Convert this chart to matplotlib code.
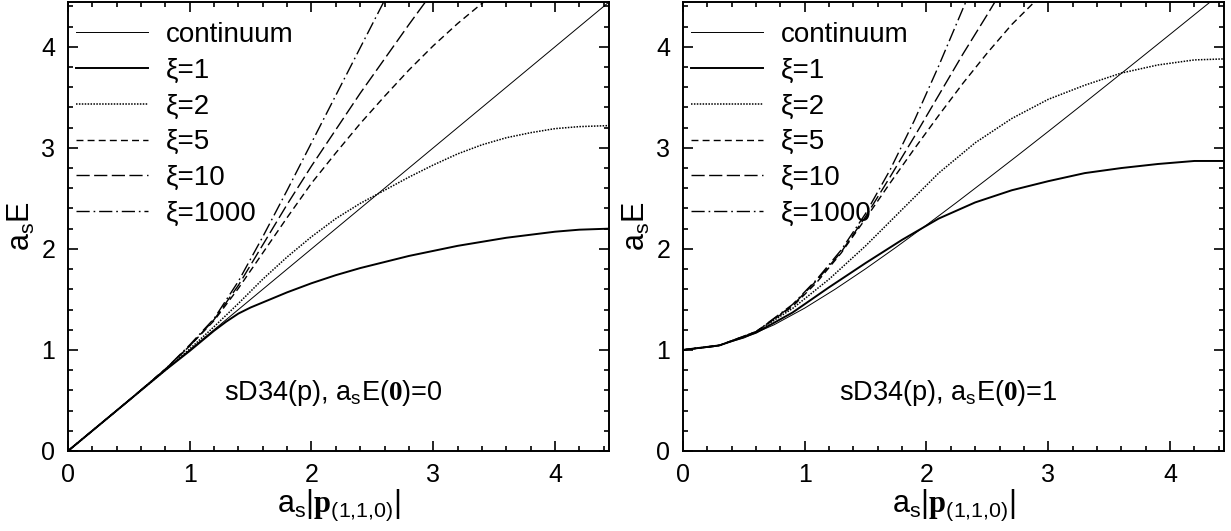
import numpy as np
import matplotlib
matplotlib.use("Agg")
import matplotlib.pyplot as plt

plt.rcParams['font.family'] = ['Liberation Sans', 'DejaVu Sans']
plt.rcParams['mathtext.fontset'] = 'custom'
plt.rcParams['mathtext.rm'] = 'Liberation Sans'
plt.rcParams['mathtext.it'] = 'Liberation Sans:italic'
plt.rcParams['mathtext.bf'] = 'Liberation Serif:bold'

PMAX = 4.443  # pi*sqrt(2), zone corner along (1,1,0)

# ---- left panel: a_s E(0) = 0 ----
left_cont_p = [0.0, 4.443]
left_cont_E = [0.0, 4.443]

left_x1_p = [0.0, 0.4, 0.8, 1.0, 1.2, 1.3, 1.4, 1.5, 1.6, 1.8, 2.0, 2.2, 2.4, 2.6, 2.8, 3.0,
             3.2, 3.4, 3.6, 3.8, 4.0, 4.2, 4.443]
left_x1_E = [0.0, 0.40, 0.80, 0.99, 1.19, 1.28, 1.36, 1.42, 1.47, 1.57, 1.66, 1.74, 1.81,
             1.87, 1.93, 1.98, 2.03, 2.07, 2.11, 2.14, 2.17, 2.19, 2.20]

left_x2_p = [0.0, 0.5, 0.8, 1.0, 1.2, 1.4, 1.6, 1.8, 2.0, 2.2, 2.4, 2.6, 2.8, 3.0, 3.2,
             3.4, 3.6, 3.8, 4.0, 4.2, 4.443]
left_x2_E = [0.0, 0.50, 0.80, 1.01, 1.23, 1.46, 1.70, 1.92, 2.12, 2.30, 2.45, 2.58, 2.71,
             2.83, 2.94, 3.03, 3.10, 3.15, 3.19, 3.21, 3.22]

left_x5_p = [0.0, 0.5, 0.8, 1.0, 1.2, 1.4, 1.6, 1.8, 2.0, 2.2, 2.4, 2.6, 2.8, 3.0, 3.2,
             3.4, 3.6]
left_x5_E = [0.0, 0.50, 0.81, 1.04, 1.29, 1.61, 1.96, 2.31, 2.65, 2.95, 3.24, 3.51, 3.77,
             4.01, 4.23, 4.43, 4.61]

left_x10_p = [0.0, 0.5, 0.8, 1.0, 1.2, 1.4, 1.6, 1.8, 2.0, 2.2, 2.4, 2.6, 2.8, 3.0]
left_x10_E = [0.0, 0.50, 0.81, 1.04, 1.30, 1.64, 2.04, 2.44, 2.82, 3.18, 3.54, 3.88, 4.22,
              4.55]

left_x1000_p = [0.0, 0.5, 0.8, 1.0, 1.2, 1.4, 1.6, 1.8, 2.0, 2.2, 2.4, 2.6, 2.7]
left_x1000_E = [0.0, 0.50, 0.81, 1.05, 1.31, 1.68, 2.12, 2.58, 3.05, 3.52, 3.99, 4.46, 4.70]

# ---- right panel: a_s E(0) = 1 ----
right_cont_p = [0.0, 0.25, 0.5, 0.75, 1.0, 1.25, 1.5, 1.75, 2.0, 2.25, 2.5, 2.75, 3.0,
                3.25, 3.5, 3.75, 4.0, 4.25, 4.443]
right_cont_E = [1.0, 1.031, 1.118, 1.25, 1.414, 1.601, 1.803, 2.016, 2.236, 2.462, 2.693,
                2.926, 3.162, 3.400, 3.640, 3.881, 4.123, 4.366, 4.553]

right_x1_p = [0.0, 0.3, 0.6, 0.9, 1.2, 1.5, 1.8, 2.1, 2.4, 2.7, 3.0, 3.3, 3.6, 3.9, 4.2,
              4.443]
right_x1_E = [1.0, 1.045, 1.17, 1.37, 1.62, 1.86, 2.09, 2.30, 2.46, 2.58, 2.67, 2.75, 2.80,
              2.84, 2.87, 2.87]

right_x2_p = [0.0, 0.3, 0.6, 0.9, 1.2, 1.5, 1.8, 2.1, 2.4, 2.7, 3.0, 3.3, 3.6, 3.9, 4.2,
              4.443]
right_x2_E = [1.0, 1.045, 1.18, 1.41, 1.70, 2.03, 2.39, 2.75, 3.05, 3.29, 3.48, 3.62, 3.74,
              3.82, 3.87, 3.88]

right_x5_p = [0.0, 0.3, 0.6, 0.9, 1.1, 1.3, 1.5, 1.7, 1.9, 2.1, 2.3, 2.5, 2.7, 2.9]
right_x5_E = [1.0, 1.045, 1.18, 1.43, 1.67, 1.96, 2.30, 2.65, 2.99, 3.32, 3.64, 3.94, 4.22,
              4.46]

right_x10_p = [0.0, 0.3, 0.6, 0.9, 1.1, 1.3, 1.5, 1.7, 1.9, 2.1, 2.3, 2.5, 2.6]
right_x10_E = [1.0, 1.045, 1.18, 1.44, 1.69, 1.97, 2.32, 2.71, 3.11, 3.52, 3.93, 4.32, 4.52]

right_x1000_p = [0.0, 0.3, 0.6, 0.9, 1.1, 1.3, 1.5, 1.7, 1.9, 2.1, 2.3, 2.4]
right_x1000_E = [1.0, 1.045, 1.18, 1.45, 1.70, 1.99, 2.35, 2.78, 3.27, 3.81, 4.38, 4.66]

labels = ['continuum', 'ξ=1', 'ξ=2', 'ξ=5', 'ξ=10', 'ξ=1000']
styles = [dict(color='k', lw=0.7, ls='-'),
          dict(color='k', lw=1.4, ls='-'),
          dict(color='k', lw=1.1, ls=(0, (1.0, 0.9))),
          dict(color='k', lw=1.0, ls=(0, (5.0, 3.0))),
          dict(color='k', lw=1.0, ls=(0, (9.5, 3.2))),
          dict(color='k', lw=1.0, ls=(0, (9.5, 2.8, 1.2, 2.8)))]


def drawPanel(ax, curves, note):
    for (p, E), lab, st in zip(curves, labels, styles):
        ax.plot(p, E, label=lab, **st)
    ax.set_xlim(0, PMAX)
    ax.set_ylim(0, PMAX)
    ax.set_xticks([0, 1, 2, 3, 4])
    ax.set_yticks([0, 1, 2, 3, 4])
    ax.set_xticks(np.arange(0, 4.41, 0.2), minor=True)
    ax.set_yticks(np.arange(0, 4.41, 0.2), minor=True)
    ax.tick_params(which='both', direction='in', top=True, right=True, width=1.2,
                   labelsize=18)
    ax.tick_params(which='major', length=7, pad=9)
    ax.tick_params(which='minor', length=3.5)
    for s in ax.spines.values():
        s.set_linewidth(1.4)
    ax.set_xlabel(r'a$_{\rm s}$|$\mathbf{p}_{(1{,}1{,}0)}$|', fontsize=22, labelpad=0)
    ax.set_ylabel(r'a$_{\rm s}$E', fontsize=22, labelpad=3)
    ax.text(1.28, 0.50, note, fontsize=19.5, ha='left', va='baseline')
    ax.legend(loc='upper left', bbox_to_anchor=(0.015, 0.955), frameon=False,
              fontsize=20, handlelength=2.6, handletextpad=0.65, labelspacing=0.35,
              borderaxespad=0.0, borderpad=0.0)


fig = plt.figure(figsize=(12.31, 5.31), dpi=100)
axL = fig.add_axes([0.0552, 0.1507, 0.4395, 0.8455])
axR = fig.add_axes([0.5548, 0.1507, 0.4395, 0.8455])

drawPanel(axL, [(left_cont_p, left_cont_E), (left_x1_p, left_x1_E),
                (left_x2_p, left_x2_E), (left_x5_p, left_x5_E),
                (left_x10_p, left_x10_E), (left_x1000_p, left_x1000_E)],
          r'sD34(p), a$_{\rm s}$E($\mathbf{0}$)=0')
drawPanel(axR, [(right_cont_p, right_cont_E), (right_x1_p, right_x1_E),
                (right_x2_p, right_x2_E), (right_x5_p, right_x5_E),
                (right_x10_p, right_x10_E), (right_x1000_p, right_x1000_E)],
          r'sD34(p), a$_{\rm s}$E($\mathbf{0}$)=1')

fig.savefig('out.png', dpi=100)
